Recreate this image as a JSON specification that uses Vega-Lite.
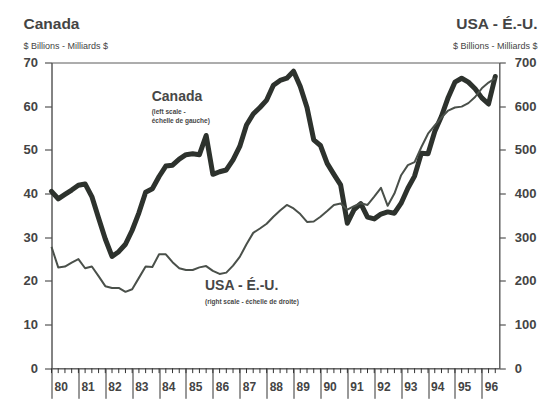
{
  "$schema": "https://vega.github.io/schema/vega-lite/v6.json",
  "width": 447.8,
  "height": 305.8,
  "autosize": {"type": "none"},
  "padding": {"left": 51.5, "top": 62.5, "right": 49.7, "bottom": 31.7},
  "background": "white",
  "config": {
    "view": {"stroke": "#5a5a5a", "strokeWidth": 1},
    "font": "Liberation Sans",
    "axis": {"domainColor": "#5a5a5a", "ticks": true, "tickColor": "#333333", "tickWidth": 1, "tickOpacity": 1, "labelColor": "#444444", "titleColor": "#444444", "grid": false, "labelFont": "Liberation Sans", "titleFont": "Liberation Sans"},
    "axisY": {"ticks": true, "tickOpacity": 1, "tickWidth": 1, "tickColor": "#333333"},
    "axisX": {"ticks": true, "tickOpacity": 1, "tickWidth": 1, "tickColor": "#333333"}
  },
  "datasets": {
    "series": [
      {"year": 1980.00, "canada": 40.5, "usa": 278},
      {"year": 1980.25, "canada": 38.8, "usa": 231},
      {"year": 1980.50, "canada": 39.8, "usa": 233},
      {"year": 1980.75, "canada": 40.8, "usa": 242},
      {"year": 1981.00, "canada": 41.9, "usa": 250},
      {"year": 1981.25, "canada": 42.2, "usa": 229},
      {"year": 1981.50, "canada": 39.3, "usa": 233},
      {"year": 1981.75, "canada": 34.4, "usa": 211},
      {"year": 1982.00, "canada": 29.6, "usa": 188},
      {"year": 1982.25, "canada": 25.6, "usa": 184},
      {"year": 1982.50, "canada": 26.7, "usa": 184},
      {"year": 1982.75, "canada": 28.4, "usa": 175},
      {"year": 1983.00, "canada": 31.6, "usa": 181},
      {"year": 1983.25, "canada": 35.6, "usa": 207},
      {"year": 1983.50, "canada": 40.3, "usa": 233},
      {"year": 1983.75, "canada": 41.1, "usa": 232},
      {"year": 1984.00, "canada": 43.9, "usa": 261},
      {"year": 1984.25, "canada": 46.3, "usa": 261},
      {"year": 1984.50, "canada": 46.5, "usa": 243},
      {"year": 1984.75, "canada": 47.9, "usa": 229},
      {"year": 1985.00, "canada": 48.9, "usa": 225},
      {"year": 1985.25, "canada": 49.1, "usa": 225},
      {"year": 1985.50, "canada": 48.9, "usa": 231},
      {"year": 1985.75, "canada": 53.3, "usa": 234},
      {"year": 1986.00, "canada": 44.4, "usa": 223},
      {"year": 1986.25, "canada": 45.0, "usa": 216},
      {"year": 1986.50, "canada": 45.4, "usa": 219},
      {"year": 1986.75, "canada": 47.7, "usa": 235},
      {"year": 1987.00, "canada": 50.8, "usa": 255},
      {"year": 1987.25, "canada": 55.7, "usa": 284},
      {"year": 1987.50, "canada": 58.2, "usa": 310},
      {"year": 1987.75, "canada": 59.7, "usa": 320},
      {"year": 1988.00, "canada": 61.4, "usa": 331},
      {"year": 1988.25, "canada": 64.8, "usa": 347},
      {"year": 1988.50, "canada": 65.9, "usa": 361},
      {"year": 1988.75, "canada": 66.4, "usa": 374},
      {"year": 1989.00, "canada": 68.0, "usa": 366},
      {"year": 1989.25, "canada": 64.5, "usa": 353},
      {"year": 1989.50, "canada": 59.7, "usa": 335},
      {"year": 1989.75, "canada": 52.3, "usa": 336},
      {"year": 1990.00, "canada": 51.0, "usa": 347},
      {"year": 1990.25, "canada": 46.9, "usa": 360},
      {"year": 1990.50, "canada": 44.4, "usa": 374},
      {"year": 1990.75, "canada": 42.0, "usa": 377},
      {"year": 1991.00, "canada": 33.2, "usa": 363},
      {"year": 1991.25, "canada": 36.3, "usa": 371},
      {"year": 1991.50, "canada": 37.7, "usa": 378},
      {"year": 1991.75, "canada": 34.6, "usa": 374},
      {"year": 1992.00, "canada": 34.2, "usa": 393},
      {"year": 1992.25, "canada": 35.3, "usa": 413},
      {"year": 1992.50, "canada": 35.8, "usa": 372},
      {"year": 1992.75, "canada": 35.5, "usa": 400},
      {"year": 1993.00, "canada": 37.8, "usa": 442},
      {"year": 1993.25, "canada": 41.2, "usa": 465},
      {"year": 1993.50, "canada": 44.0, "usa": 472},
      {"year": 1993.75, "canada": 49.2, "usa": 506},
      {"year": 1994.00, "canada": 49.1, "usa": 537},
      {"year": 1994.25, "canada": 54.2, "usa": 556},
      {"year": 1994.50, "canada": 57.7, "usa": 574},
      {"year": 1994.75, "canada": 62.0, "usa": 590},
      {"year": 1995.00, "canada": 65.5, "usa": 597},
      {"year": 1995.25, "canada": 66.4, "usa": 599},
      {"year": 1995.50, "canada": 65.5, "usa": 607},
      {"year": 1995.75, "canada": 64.0, "usa": 621},
      {"year": 1996.00, "canada": 61.9, "usa": 641},
      {"year": 1996.25, "canada": 60.5, "usa": 654},
      {"year": 1996.50, "canada": 66.8, "usa": 664}
    ]
  },
  "data": {"name": "series"},
  "resolve": {"scale": {"x": "independent", "y": "independent"}, "axis": {"x": "independent", "y": "independent"}},
  "layer": [
    {
      "layer": [
        {
          "mark": {"type": "rule", "color": "#333333", "strokeWidth": 1, "clip": false},
          "encoding": {
            "x": {"field": "year", "type": "quantitative"},
            "y": {"datum": 0},
            "y2": {"datum": -1.1}
          }
        },
        {
          "mark": {"type": "line", "color": "#2d322d", "strokeWidth": 5, "strokeJoin": "round", "strokeCap": "round"},
          "encoding": {
            "x": {
              "field": "year", "type": "quantitative",
              "scale": {"domain": [1980, 1996.65], "nice": false, "zero": false},
              "axis": {
                "orient": "bottom",
                "values": [1980, 1981, 1982, 1983, 1984, 1985, 1986, 1987, 1988, 1989, 1990, 1991, 1992, 1993, 1994, 1995, 1996],
                "tickCount": 17,
                "format": "d",
                "labelExpr": "substring(datum.label, 2)",
                "ticks": true,
                "tickSize": 30,
                "tickColor": "#333333",
                "tickWidth": 1,
                "tickOpacity": 1,
                "labelAlign": "left",
                "labelOffset": 2.5,
                "labelBaseline": "middle",
                "labelPadding": -11.6,
                "labelFontSize": 12,
                "labelFontWeight": "bold",
                "labelOverlap": false,
                "labelFlush": false,
                "labelBound": false,
                "title": "USA - É.-U.",
                "titleX": 485.5,
                "titleY": -345.3,
                "titleAlign": "right",
                "titleBaseline": "middle",
                "titleAngle": 0,
                "titleFontSize": 15.5,
                "titleFontWeight": "bold"
              }
            },
            "y": {
              "field": "canada", "type": "quantitative",
              "scale": {"domain": [0, 70], "nice": false, "zero": true},
              "axis": {
                "orient": "left",
                "values": [0, 10, 20, 30, 40, 50, 60, 70],
                "tickCount": 8,
                "ticks": true,
                "tickSize": 7,
                "tickColor": "#333333",
                "tickWidth": 1,
                "tickOpacity": 1,
                "labelPadding": 7,
                "labelFontSize": 13,
                "labelFontWeight": "bold",
                "labelBound": false,
                "title": "$ Billions - Milliards $",
                "titleAngle": 0,
                "titleX": -28.5,
                "titleY": -17.5,
                "titleAlign": "left",
                "titleBaseline": "middle",
                "titleFontSize": 9,
                "titleFontWeight": "normal"
              }
            }
          }
        },
        {
          "data": {"values": [{}]},
          "mark": {"type": "text", "align": "left", "baseline": "middle", "fontSize": 14, "fontWeight": "bold", "color": "#474747"},
          "encoding": {
            "x": {"datum": 1983.725},
            "y": {"datum": 62.1},
            "text": {"value": "Canada"}
          }
        },
        {
          "data": {"values": [{}]},
          "mark": {"type": "text", "align": "left", "baseline": "middle", "fontSize": 6.5, "fontWeight": "bold", "lineHeight": 9.2, "color": "#474747"},
          "encoding": {
            "x": {"datum": 1983.725},
            "y": {"datum": 58.64},
            "text": {"value": ["(left scale -", "échelle de gauche)"]}
          }
        }
      ]
    },
    {
      "layer": [
        {
          "mark": {"type": "line", "color": "#4a504a", "strokeWidth": 2, "strokeJoin": "round"},
          "encoding": {
            "x": {
              "field": "year", "type": "quantitative",
              "scale": {"domain": [1980, 1996.65], "nice": false, "zero": false},
              "axis": {
                "orient": "bottom",
                "ticks": false,
                "labels": false,
                "domain": false,
                "title": "Canada",
                "titleX": -28.5,
                "titleY": -345.3,
                "titleAlign": "left",
                "titleBaseline": "middle",
                "titleAngle": 0,
                "titleFontSize": 15.5,
                "titleFontWeight": "bold"
              }
            },
            "y": {
              "field": "usa", "type": "quantitative",
              "scale": {"domain": [0, 700], "nice": false, "zero": true},
              "axis": {
                "orient": "right",
                "values": [0, 100, 200, 300, 400, 500, 600, 700],
                "tickCount": 8,
                "ticks": true,
                "tickSize": 6,
                "tickColor": "#333333",
                "tickWidth": 1,
                "tickOpacity": 1,
                "labelPadding": 9,
                "labelFontSize": 13,
                "labelFontWeight": "bold",
                "labelBound": false,
                "title": "$ Billions - Milliards $",
                "titleAngle": 0,
                "titleX": 37.7,
                "titleY": -17.5,
                "titleAlign": "right",
                "titleBaseline": "middle",
                "titleFontSize": 9,
                "titleFontWeight": "normal"
              }
            }
          }
        },
        {
          "data": {"values": [{}]},
          "mark": {"type": "text", "align": "left", "baseline": "middle", "fontSize": 14, "fontWeight": "bold", "color": "#474747"},
          "encoding": {
            "x": {"datum": 1985.706},
            "y": {"datum": 188.4},
            "text": {"value": "USA - É.-U."}
          }
        },
        {
          "data": {"values": [{}]},
          "mark": {"type": "text", "align": "left", "baseline": "middle", "fontSize": 6.5, "fontWeight": "bold", "color": "#474747"},
          "encoding": {
            "x": {"datum": 1985.706},
            "y": {"datum": 152.4},
            "text": {"value": "(right scale - échelle de droite)"}
          }
        }
      ]
    }
  ]
}
